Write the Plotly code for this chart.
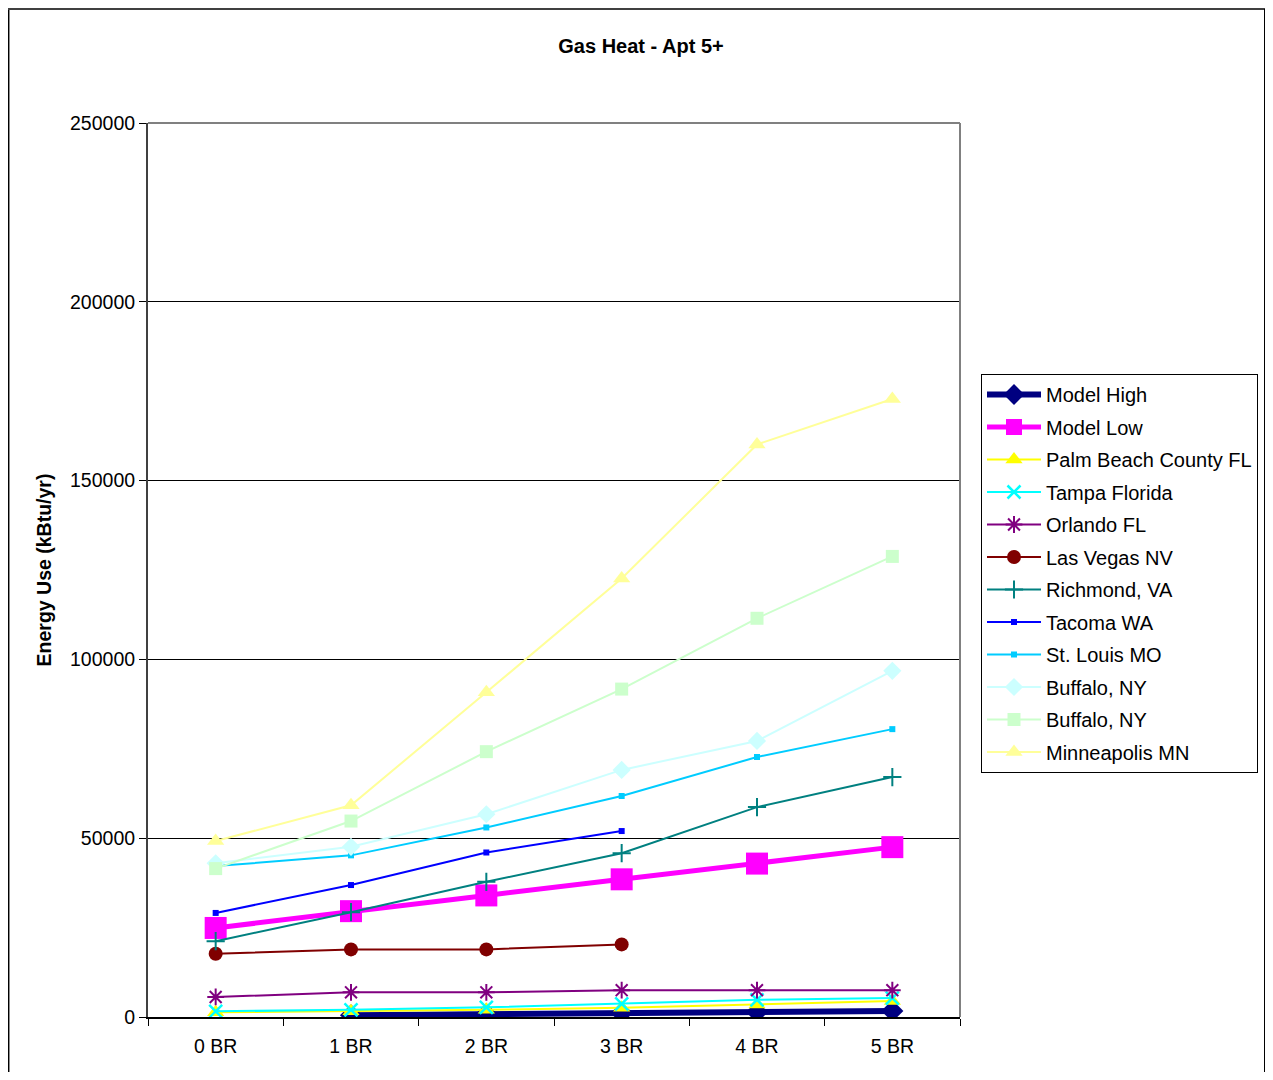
import plotly.graph_objects as go

categories = ["0 BR", "1 BR", "2 BR", "3 BR", "4 BR", "5 BR"]

model_high = [None, 500, 800, 1100, 1400, 1700]
model_low = [24900, 29600, 34000, 38500, 42900, 47500]
palm_beach = [1300, 1600, 2000, 2600, 3500, 4500]
tampa = [1600, 2000, 2700, 3700, 4800, 5300]
orlando = [5600, 6900, 6900, 7500, 7500, 7500]
las_vegas = [17700, 18900, 18900, 20300, None, None]
richmond = [21200, 29300, 37800, 45800, 58700, 67100]
tacoma = [29100, 36900, 46000, 52000, None, None]
st_louis = [42200, 45200, 53000, 61800, 72700, 80500]
buffalo1 = [43000, 47600, 56700, 69100, 77200, 96800]
buffalo2 = [41500, 54800, 74200, 91700, 111500, 128800]
minneapolis = [49200, 59200, 90800, 122600, 160100, 172800]

series = [
    ("Model High", model_high, "#000080", 6, "diamond", 17, None),
    ("Model Low", model_low, "#FF00FF", 5, "square", 22, None),
    ("Palm Beach County FL", palm_beach, "#FFFF00", 2, "triangle-up", 15, None),
    ("Tampa Florida", tampa, "#00FFFF", 2, "x-thin-open", 13, 2.5),
    ("Orlando FL", orlando, "#800080", 2, "asterisk-open", 14, 2),
    ("Las Vegas NV", las_vegas, "#800000", 2, "circle", 14, None),
    ("Richmond, VA", richmond, "#008080", 2, "cross-thin-open", 13, 2),
    ("Tacoma WA", tacoma, "#0000FF", 2, "square", 6, None),
    ("St. Louis MO", st_louis, "#00CCFF", 2, "square", 6, None),
    ("Buffalo, NY", buffalo1, "#CCFFFF", 2, "diamond", 14, None),
    ("Buffalo, NY", buffalo2, "#CCFFCC", 2, "square", 13, None),
    ("Minneapolis MN", minneapolis, "#FFFF99", 2, "triangle-up", 15, None),
]

fig = go.Figure()
for i, (name, vals, color, lw, sym, size, mlw) in enumerate(series):
    marker = dict(symbol=sym, size=size, color=color)
    if mlw:
        marker["line"] = dict(color=color, width=mlw)
    fig.add_trace(go.Scatter(
        x=categories, y=vals, name=name, mode="lines+markers",
        line=dict(color=color, width=lw), marker=marker,
        connectgaps=False, legendgroup="g%d" % i,
    ))

font_family = "Liberation Sans, Arial, sans-serif"

# page offset of the figure (body margin); keep the page free of scrollbars
OFF = 8
W, H = 1273 - OFF, 1080 - 2 * OFF
# Plot area in page coords: x 148-960, y 123-1017
L, R, T, B = 148 - OFF, 960 - OFF, 123 - OFF, 1017 - OFF
pw, ph = R - L, B - T

def px(xp):
    return (xp - OFF - L) / pw

def py(yp):
    return (B - (yp - OFF)) / ph

shapes = [
    dict(type="line", xref="paper", yref="paper", x0=0, x1=1, y0=1, y1=1,
         line=dict(color="#808080", width=2), layer="above"),
    dict(type="line", xref="paper", yref="paper", x0=1, x1=1, y0=0, y1=1,
         line=dict(color="#808080", width=2), layer="above"),
    # outer chart border
    dict(type="line", xref="paper", yref="paper", x0=px(8.7), x1=px(8.7), y0=py(1090), y1=py(9),
         line=dict(color="#000000", width=1.5)),
    dict(type="line", xref="paper", yref="paper", x0=px(8), x1=px(1266), y0=py(9), y1=py(9),
         line=dict(color="#404040", width=2)),
    dict(type="line", xref="paper", yref="paper", x0=px(1265), x1=px(1265), y0=py(9), y1=py(1090),
         line=dict(color="#000000", width=2)),
]

fig.update_layout(
    width=W, height=H,
    margin=dict(l=L, r=W - R, t=T, b=H - B, pad=0),
    paper_bgcolor="white", plot_bgcolor="white",
    font=dict(family=font_family, size=19.5, color="black"),
    title=dict(text="<b>Gas Heat - Apt 5+</b>", x=(641 - OFF) / W, xref="container", xanchor="center",
               y=1 - (46 - OFF) / H, yref="container", yanchor="middle",
               font=dict(size=20, family=font_family)),
    showlegend=True,
    legend=dict(
        x=px(981), y=py(374), xanchor="left", yanchor="top",
        bordercolor="black", borderwidth=1, bgcolor="white",
        font=dict(size=20, family=font_family),
        tracegroupgap=3.5, itemwidth=54,
    ),
    shapes=shapes,
    xaxis=dict(
        type="category", range=[-0.5, 5.5], tickson="boundaries",
        ticks="outside", ticklen=7, tickcolor="black", tickwidth=1,
        showline=True, linecolor="black", linewidth=2, showgrid=False,
        tickfont=dict(size=19.5), zeroline=False, ticklabelstandoff=11,
    ),
    yaxis=dict(
        range=[0, 250000], dtick=50000, tickformat="d",
        ticks="outside", ticklen=7, tickcolor="black", tickwidth=1,
        showline=True, linecolor="#404040", linewidth=2,
        showgrid=True, gridcolor="black", gridwidth=1, zeroline=False,
        title=dict(text="<b>Energy Use (kBtu/yr)</b>", font=dict(size=19.5), standoff=13),
        tickfont=dict(size=19.5),
    ),
)

fig.write_html("out.html")
